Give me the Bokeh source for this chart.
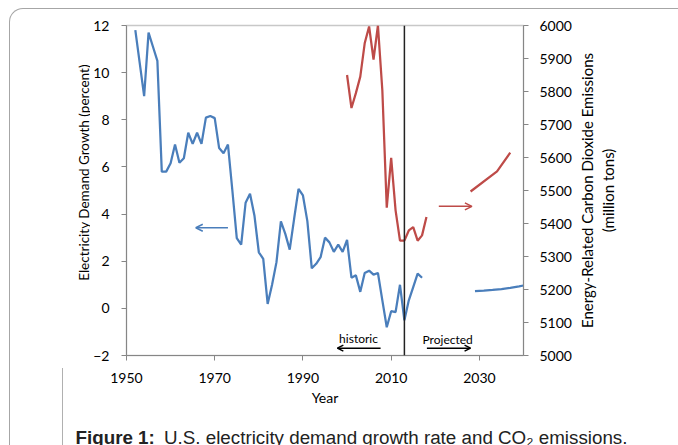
from bokeh.plotting import figure
from bokeh.layouts import row, column
from bokeh.models import Range1d, LinearAxis, FixedTicker, Label, Arrow, OpenHead, Span
from bokeh.embed import file_html
from bokeh.resources import INLINE

# ---------------- data ----------------
hist_years = list(range(1952, 2018))
hist_growth = [11.8, 10.4, 9.0, 11.7, 11.1, 10.5, 5.8, 5.8, 6.16, 6.95,      # 1952-1961
               6.18, 6.37, 7.45, 6.98, 7.45, 6.98, 8.09, 8.16, 8.07, 6.8,     # 1962-1971
               6.58, 6.95, 5.0, 2.98, 2.7, 4.48, 4.86, 3.94, 2.38, 2.1,      # 1972-1981
               0.19, 1.0, 1.96, 3.69, 3.16, 2.49, 3.8, 5.07, 4.79, 3.7,      # 1982-1991
               1.7, 1.89, 2.17, 3.0, 2.8, 2.4, 2.7, 2.4, 2.9, 1.3,           # 1992-2001
               1.4, 0.7, 1.5, 1.6, 1.43, 1.5, 0.34, -0.8, -0.12, -0.16,      # 2002-2011
               1.0, -0.51, 0.34, 0.9, 1.47, 1.3]                             # 2012-2017

proj_years = [2029, 2031, 2033, 2035, 2037, 2039, 2040]
proj_growth = [0.73, 0.75, 0.78, 0.82, 0.87, 0.93, 0.97]

co2_years = list(range(2000, 2019))
co2_hist = [5850, 5750, 5795, 5845, 5946, 5997, 5897, 6000, 5803, 5448,
            5599, 5440, 5348, 5348, 5379, 5389, 5348, 5364, 5420]

co2_proj_years = [2028, 2034, 2037]
co2_proj = [5497, 5558, 5615]

x_ticks = [1950, 1970, 1990, 2010, 2030]
y_ticks = [-2, 0, 2, 4, 6, 8, 10, 12]
co2_ticks = list(range(5000, 6001, 100))

divider_year = 2013

BLUE = "#4A7EBB"
RED = "#BE4B48"
AXIS = "#868686"
FONT = "Lato"

TOP_H = 412
B_TOP, B_BOT = 16, 66


def blank(w, h, xr, yr, top=0, bot=0):
    f = figure(width=w, height=h, x_range=Range1d(*xr), y_range=Range1d(*yr),
               output_backend="svg", toolbar_location=None,
               x_axis_type=None, y_axis_type=None,
               min_border_left=0, min_border_right=0,
               min_border_top=top, min_border_bottom=bot)
    f.grid.visible = False
    f.outline_line_color = None
    f.background_fill_color = None
    f.border_fill_color = None
    return f


def lab(fig, text, x, y, size, angle=0, align="center", baseline="middle",
        font=FONT, style="normal", color="black", rng="default"):
    fig.add_layout(Label(text=text, x=x, y=y, angle=angle, angle_units="deg",
                         text_align=align, text_baseline=baseline,
                         text_font=font, text_font_size=size, text_font_style=style,
                         text_color=color, y_range_name=rng))


# ---------------- main chart ----------------
p = figure(width=486, height=TOP_H,
           x_range=Range1d(1950, 2040), y_range=Range1d(-2, 12),
           output_backend="svg", toolbar_location=None,
           min_border_left=36, min_border_right=53,
           min_border_top=B_TOP, min_border_bottom=B_BOT)
p.extra_y_ranges = {"co2": Range1d(5000, 6000)}
p.add_layout(LinearAxis(y_range_name="co2"), "right")

p.grid.visible = False
p.outline_line_color = "#c8c8c8"
p.outline_line_width = 1.5
p.background_fill_color = "white"
p.border_fill_color = "white"

p.xaxis.ticker = FixedTicker(ticks=x_ticks)
p.yaxis[0].ticker = FixedTicker(ticks=y_ticks)
p.yaxis[1].ticker = FixedTicker(ticks=co2_ticks)

for ax in p.xaxis + p.yaxis:
    ax.axis_line_color = AXIS
    ax.major_tick_line_color = AXIS
    ax.major_tick_out = 5
    ax.major_tick_in = 0
    ax.minor_tick_line_color = None
    ax.major_label_text_font = FONT
    ax.major_label_text_font_size = "14px"
    ax.major_label_text_color = "black"

p.xaxis.major_label_standoff = 12
p.yaxis[0].major_label_standoff = 12
p.yaxis[1].major_label_standoff = 11

p.xaxis.axis_label = "Year"
p.xaxis.axis_label_text_font = FONT
p.xaxis.axis_label_text_font_size = "14px"
p.xaxis.axis_label_text_font_style = "normal"
p.xaxis.axis_label_text_color = "black"
p.xaxis.axis_label_standoff = 3

p.line(hist_years, hist_growth, line_color=BLUE, line_width=2.25)
p.line(proj_years, proj_growth, line_color=BLUE, line_width=2.25)
p.line(co2_years, co2_hist, line_color=RED, line_width=2.25, y_range_name="co2")
p.line(co2_proj_years, co2_proj, line_color=RED, line_width=2.25, y_range_name="co2")

p.add_layout(Span(location=divider_year, dimension="height", line_color="#222222", line_width=1.5))

p.add_layout(Arrow(end=OpenHead(size=7, line_color=BLUE, line_width=1.5),
                   x_start=1973.0, y_start=3.42, x_end=1965.7, y_end=3.42,
                   line_color=BLUE, line_width=1.5))
p.add_layout(Arrow(end=OpenHead(size=7, line_color=RED, line_width=1.5),
                   x_start=2020.8, y_start=5452, x_end=2028.3, y_end=5452,
                   line_color=RED, line_width=1.5, y_range_name="co2"))
p.add_layout(Arrow(end=OpenHead(size=6, line_color="black", line_width=1.5),
                   x_start=2007.6, y_start=-1.69, x_end=1997.8, y_end=-1.69,
                   line_color="black", line_width=1.5))
p.add_layout(Arrow(end=OpenHead(size=6, line_color="black", line_width=1.5),
                   x_start=2018.1, y_start=-1.69, x_end=2028.0, y_end=-1.69,
                   line_color="black", line_width=1.5))

lab(p, "historic", 2002.6, -1.28, "12px")
lab(p, "Projected", 2022.8, -1.32, "12px")

# ---------------- left strip (axis title); coordinates are page pixels ----------------
left = blank(80, TOP_H, (10, 90), (355, 25), B_TOP, B_BOT)
lab(left, "Electricity Demand Growth (percent)", 83, 172, "13.5px", angle=90)

# ---------------- right strip (axis title) ----------------
right = blank(102, TOP_H, (576, 678), (355, 25), B_TOP, B_BOT)
lab(right, "Energy-Related Carbon Dioxide Emissions", 586, 190, "15px", angle=90)
lab(right, "(million tons)", 607, 190, "15px", angle=90)

# ---------------- caption ----------------
cap = blank(668, 24, (10, 678), (445, 421))
CAP_Y = 436.8
lab(cap, "Figure 1:", 75, CAP_Y, "18.8px", align="left", baseline="alphabetic",
    font="Liberation Sans", style="bold", color="#222222")
lab(cap, "U.S. electricity demand growth rate and CO\u2082 emissions.", 163.5, CAP_Y, "18.8px",
    align="left", baseline="alphabetic", font="Liberation Sans", color="#222222")

layout = column(row(left, p, right, spacing=0), cap, spacing=0)
layout.styles = {"margin-left": "9px", "margin-top": "8px",
                 "border-top": "1px solid #a6a6a6", "border-left": "1px solid #a6a6a6",
                 "border-top-left-radius": "14px",
                 "background-image": "linear-gradient(#b0b0b0, #b0b0b0)",
                 "background-size": "1px 77px",
                 "background-position": "52px 359px",
                 "background-repeat": "no-repeat"}

open("out.html", "w").write(file_html(layout, INLINE))
